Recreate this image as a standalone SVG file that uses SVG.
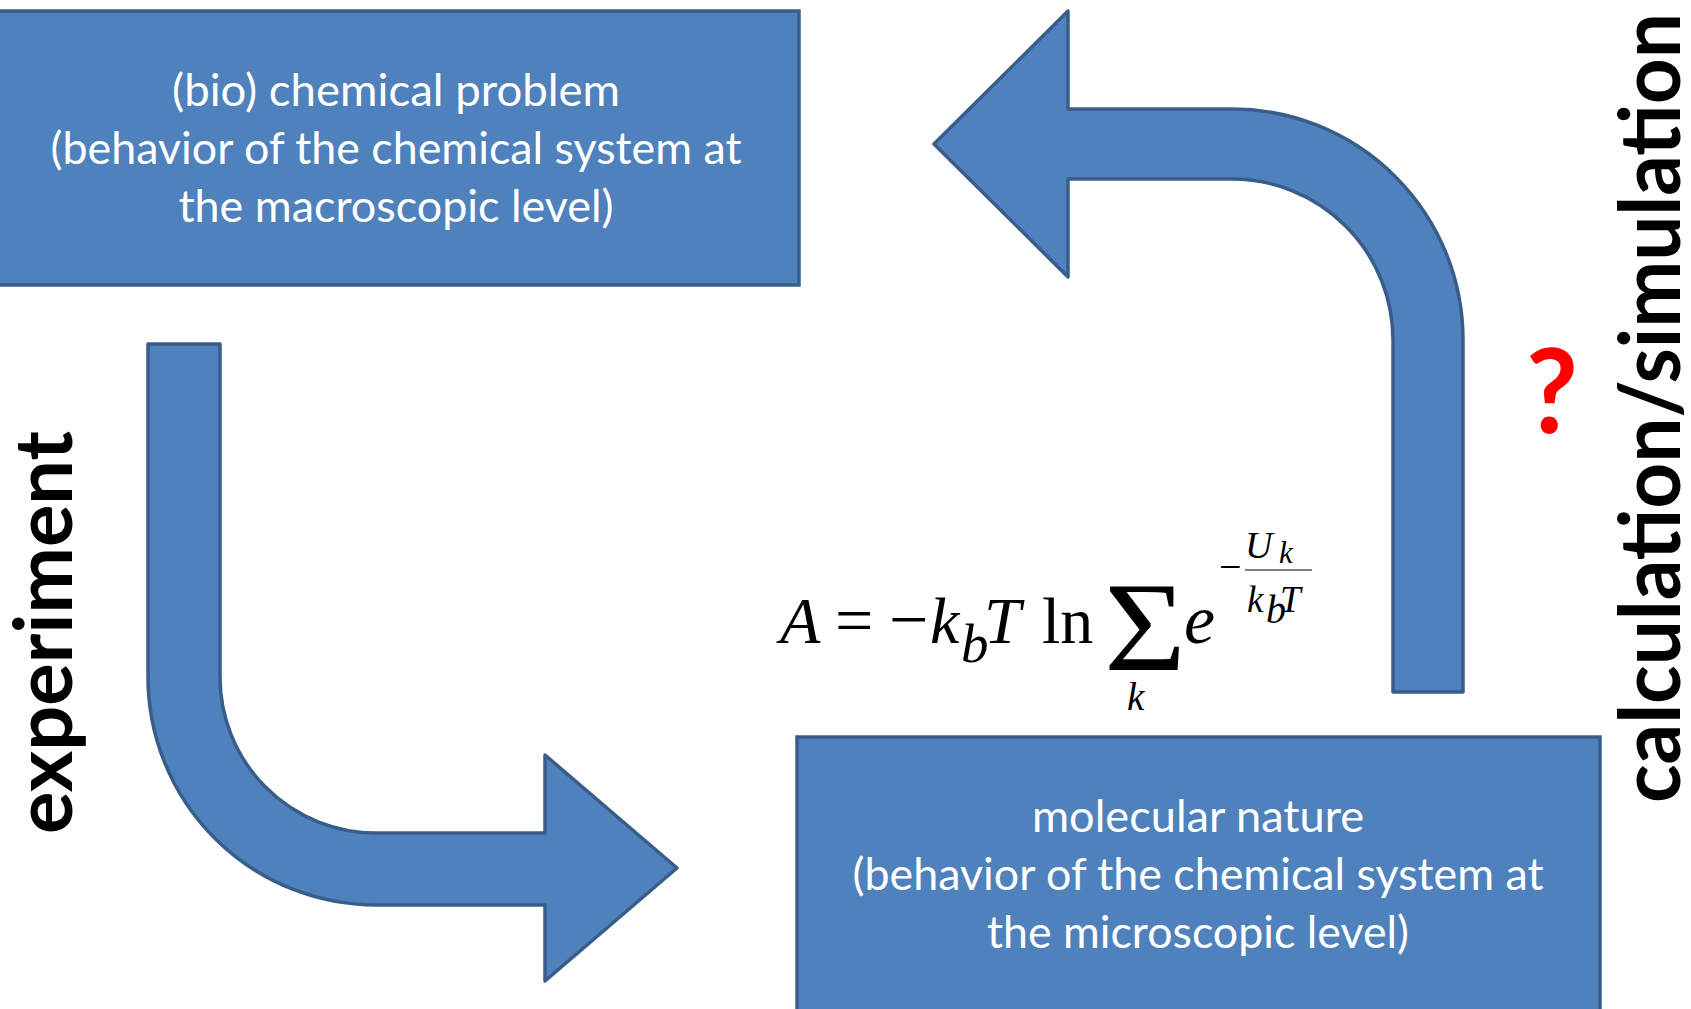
<svg xmlns="http://www.w3.org/2000/svg" width="1691" height="1009" viewBox="0 0 1691 1009">
<style>
.box{fill:#4F81BD;stroke:#385D8A;stroke-width:3.5}
.arrow{fill:#4F81BD;stroke:#385D8A;stroke-width:3.5;stroke-linejoin:round}
.bt{font-family:Lato,"Open Sans","Liberation Sans",sans-serif;font-size:45px;fill:#FFFFFF;text-anchor:middle}
.side{font-family:Lato,"Open Sans","Liberation Sans",sans-serif;font-weight:700;fill:#000000}
.m{font-family:"Liberation Serif","Times New Roman",serif;fill:#000000}
.i{font-style:italic}
</style>
<rect width="1691" height="1009" fill="#FFFFFF"/>
<g id="connectors">
<path class="arrow" d="M148,344 L220,344 L220,677 A156,156 0 0 0 376,833 L545,833 L545,755 L677,868 L545,981 L545,905 L376,905 A228,228 0 0 1 148,677 Z"/>
<path class="arrow" d="M1393,692 L1463,692 L1463,340 A231,231 0 0 0 1232,109 L1068,109 L1068,11 L934,144 L1068,277 L1068,179 L1232,179 A161,161 0 0 1 1393,340 Z"/>
</g>
<g id="node-macro">
<rect class="box" x="-10" y="11" width="809" height="274"/>
<text class="bt" x="396" y="106" textLength="448" lengthAdjust="spacingAndGlyphs">(bio) chemical problem</text>
<text class="bt" x="396" y="164" textLength="691" lengthAdjust="spacingAndGlyphs">(behavior of the chemical system at</text>
<text class="bt" x="396" y="222" textLength="435" lengthAdjust="spacingAndGlyphs">the macroscopic level)</text>
</g>
<g id="node-micro">
<rect class="box" x="797" y="737" width="803" height="290"/>
<text class="bt" x="1198" y="832" textLength="332" lengthAdjust="spacingAndGlyphs">molecular nature</text>
<text class="bt" x="1198" y="890" textLength="691" lengthAdjust="spacingAndGlyphs">(behavior of the chemical system at</text>
<text class="bt" x="1198" y="948" textLength="422" lengthAdjust="spacingAndGlyphs">the microscopic level)</text>
</g>
<g id="label-experiment">
<text class="side" transform="translate(72,834) rotate(-90)" x="0" y="0" font-size="80" textLength="403" lengthAdjust="spacingAndGlyphs">experiment</text>
</g>
<g id="label-calculation">
<text class="side" transform="translate(1680,803) rotate(-90)" x="0" y="0" font-size="84" textLength="790" lengthAdjust="spacingAndGlyphs">calculation/simulation</text>
</g>
<g id="question">
<text class="side" x="1526" y="433" font-size="116" style="fill:#FF0000" textLength="52" lengthAdjust="spacingAndGlyphs">?</text>
</g>
<g id="formula">
<text class="m i" x="780" y="643" font-size="66">A</text>
<text class="m" x="835" y="643" font-size="68">=</text>
<text class="m" x="889" y="643" font-size="70">−</text>
<text class="m i" x="930" y="643" font-size="66">k</text>
<text class="m i" x="961" y="662" font-size="55">b</text>
<text class="m i" x="984" y="643" font-size="66">T</text>
<text class="m" x="1042" y="643" font-size="66">ln</text>
<text class="m" transform="translate(1104,670) scale(1.1,1)" x="0" y="0" font-size="128">Σ</text>
<text class="m i" x="1127" y="710" font-size="39">k</text>
<text class="m i" x="1184" y="643" font-size="70">e</text>
<text class="m" x="1219" y="580" font-size="40">−</text>
<line x1="1245" y1="570" x2="1312" y2="570" stroke="#555555" stroke-width="1.5"/>
<text class="m i" x="1245" y="558" font-size="38">U</text>
<text class="m i" x="1279" y="563" font-size="31">k</text>
<text class="m i" x="1247" y="612" font-size="37">k</text>
<text class="m i" x="1266" y="623" font-size="40">b</text>
<text class="m i" x="1280" y="612" font-size="37">T</text>
</g>
</svg>
